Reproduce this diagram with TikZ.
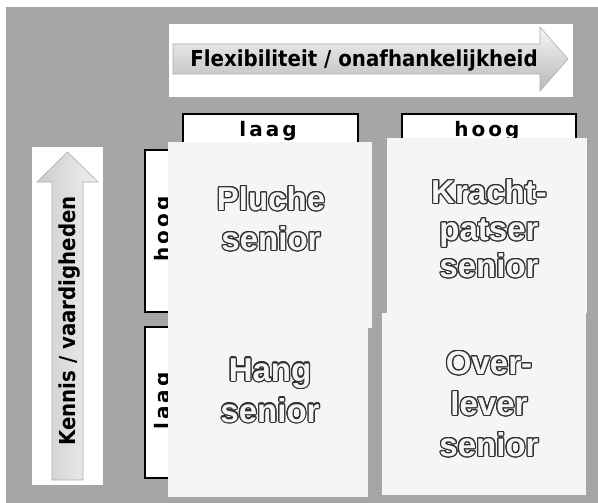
\documentclass[tikz,border=0pt]{standalone}
\usepackage{fontspec}
\setmainfont{DejaVu Sans}
\newfontfamily\labfont{DejaVu Sans}[FakeStretch=0.9]
\newfontfamily\tabfont{DejaVu Sans}
\newfontfamily\cardfont{Liberation Sans}
\definecolor{bggray}{HTML}{A6A6A6}
\definecolor{cardwhite}{HTML}{F5F5F5}
\definecolor{oline}{HTML}{303030}
\newcommand\olt[1]{\foreach \oa in {0,22.5,...,337.5}{\rlap{\hspace*{\fpeval{1.2*cosd(\oa)}pt}\raisebox{\fpeval{1.2*sind(\oa)}pt}{\color{oline}#1}}}#1}
\tikzset{
  tabline/.style={draw=black, line width=1.6pt, fill=white},
  card/.style={fill=cardwhite},
  tablabel/.style={font=\tabfont\bfseries\fontsize{20}{22}\selectfont, inner sep=0pt, anchor=base},
  cardlabel/.style={font=\cardfont\bfseries\fontsize{33}{40}\selectfont, text=cardwhite, align=center, inner sep=0pt, anchor=north},
  arrowlabel/.style={font=\labfont\bfseries\fontsize{22}{24}\selectfont, inner sep=0pt, anchor=base},
  bigarrow/.style={draw=gray!65, line width=0.6pt},
}
\begin{document}
\begin{tikzpicture}[x=1pt,y=-1pt]
\useasboundingbox (0,0) rectangle (598,503);
\fill[white] (0,0) rectangle (598,503);
\fill[bggray] (6,7) rectangle (598,503);
% top arrow panel
\fill[white] (169,24) rectangle (573,97);
\shade[bigarrow, top color=gray!8, bottom color=gray!55]
  (173,44) -- (540,44) -- (540,27) -- (568,59) -- (540,91) -- (540,74) -- (173,74) -- cycle;
\node[arrowlabel] (flex) at (364,67) {Flexibiliteit / onafhankelijkheid};
% left arrow panel
\fill[white] (32,147) rectangle (103,485);
\shade[bigarrow, left color=gray!40, right color=gray!12]
  (52,480) -- (52,182) -- (37,182) -- (67.5,152) -- (98,182) -- (83,182) -- (83,480) -- cycle;
\node[arrowlabel, rotate=90] (kennis) at (75,321) {Kennis / vaardigheden};
% tabs
\draw[tabline] (183,142) -- (183,114) -- (358,114) -- (358,142);
\node[tablabel] (laagtop) at (268,137) {l\kern3pt a\kern3pt a\kern3pt g};
\draw[tabline] (402,138) -- (402,114) -- (576,114) -- (576,138);
\node[tablabel] (hoogtop) at (487,136) {h\kern3pt o\kern3pt o\kern3pt g};
\draw[tabline] (168,150) -- (145,150) -- (145,312) -- (168,312);
\node[tablabel, rotate=90] (hoogleft) at (169,229) {h\kern3pt o\kern3pt o\kern3pt g};
\draw[tabline] (168,327) -- (145,327) -- (145,478) -- (168,478);
\node[tablabel, rotate=90] (laagleft) at (169,401) {l\kern3pt a\kern3pt a\kern3pt g};
% cards
\fill[card] (168,328) rectangle (368,497);
\fill[card] (168,142) rectangle (372,328);
\fill[card] (382,313) rectangle (586,495);
\fill[card] (387,138) rectangle (587,313);
% card labels
\node[cardlabel] (pluche) at (271,185) {\olt{Pluche}\\\olt{senior}};
\node[cardlabel, font=\cardfont\bfseries\fontsize{33}{37}\selectfont] (kracht) at (489,178) {\olt{Kracht-}\\\olt{patser}\\\olt{senior}};
\node[cardlabel, font=\cardfont\bfseries\fontsize{33}{41}\selectfont] (hang) at (270,357) {\olt{Hang}\\\olt{senior}};
\node[cardlabel, font=\cardfont\bfseries\fontsize{33}{41}\selectfont] (over) at (489,350) {\olt{Over-}\\\olt{lever}\\\olt{senior}};
\end{tikzpicture}
\end{document}
